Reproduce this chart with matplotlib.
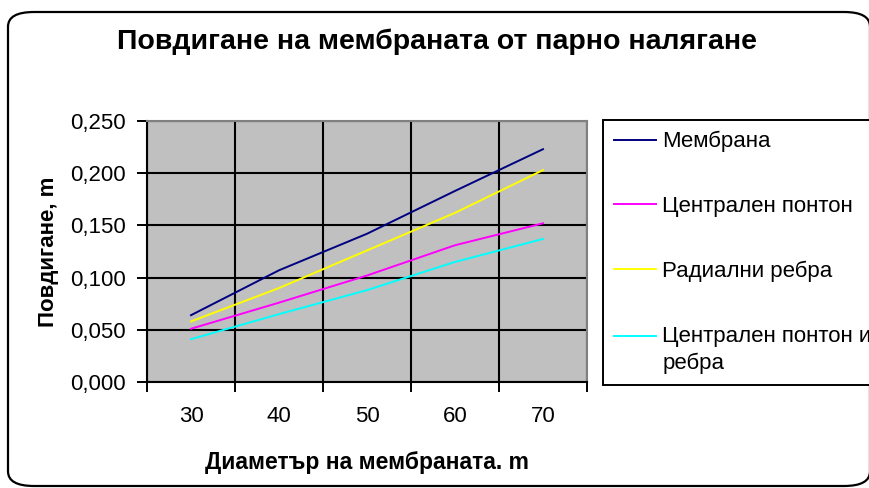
import matplotlib
matplotlib.use('Agg')
import matplotlib.pyplot as plt
from matplotlib.patches import FancyBboxPatch
from matplotlib.ticker import FixedLocator, FuncFormatter

plt.rcParams['font.family'] = ['Liberation Sans', 'DejaVu Sans']

# данни, отчетени от графиката
diameters = ['30', '40', '50', '60', '70']
membrana = [0.064, 0.107, 0.142, 0.183, 0.223]
ponton = [0.051, 0.076, 0.102, 0.131, 0.152]
rebra = [0.058, 0.090, 0.126, 0.162, 0.203]
ponton_rebra = [0.041, 0.065, 0.088, 0.115, 0.137]

series_names = ['Мембрана', 'Централен понтон', 'Радиални ребра',
                'Централен понтон и\nребра']
series_colors = ['#000080', '#FF00FF', '#FFFF00', '#00FFFF']

W, H = 869, 488
fig = plt.figure(figsize=(W / 100, H / 100), dpi=100)

# рамка на диаграмата със заоблени ъгли
frame = FancyBboxPatch((8 / W, 2 / H), (870 - 8) / W, (476 - 2) / H,
                       boxstyle='round,pad=0,rounding_size=0.03',
                       transform=fig.transFigure, facecolor='white',
                       edgecolor='black', linewidth=1.6, zorder=-5)
fig.patches.append(frame)

ax = fig.add_axes([147 / W, (H - 382) / H, 440 / W, 261 / H])
ax.set_facecolor('#C0C0C0')

x = list(range(len(diameters)))
for vals, name, col in zip([membrana, ponton, rebra, ponton_rebra],
                           series_names, series_colors):
    ax.plot(x, vals, color=col, linewidth=1.4, label=name, zorder=3)

ax.set_xlim(-0.5, len(diameters) - 0.5)
ax.set_ylim(0, 0.25)

# категориите са между деленията
ax.xaxis.set_major_locator(FixedLocator([i - 0.5 for i in range(len(diameters) + 1)]))
ax.xaxis.set_minor_locator(FixedLocator(x))
ax.set_xticklabels([], minor=False)
ax.set_xticklabels(diameters, minor=True)
ax.tick_params(axis='x', which='major', length=7, width=1.4, direction='out')
ax.tick_params(axis='x', which='minor', length=0, pad=17, labelsize=16)

ax.set_yticks([0, 0.05, 0.10, 0.15, 0.20, 0.25])
ax.yaxis.set_major_formatter(FuncFormatter(lambda v, p: ('%.3f' % v).replace('.', ',')))
ax.tick_params(axis='y', length=7, width=1.4, direction='out', pad=8, labelsize=16)

ax.grid(True, which='major', color='black', linewidth=1.5, zorder=1)
ax.set_axisbelow(True)

for s in ['left', 'bottom']:
    ax.spines[s].set_color('black')
    ax.spines[s].set_linewidth(1.5)
for s in ['top', 'right']:
    ax.spines[s].set_color('#808080')
    ax.spines[s].set_linewidth(1.5)

ax.set_ylabel('Повдигане, m', fontsize=16, fontweight='bold')
ax.yaxis.set_label_coords((59 - 147) / 440, 0.5)
ax.set_xlabel('Диаметър на мембраната. m', fontsize=16.5, fontweight='bold')
ax.xaxis.set_label_coords(0.5, (382 - 451) / 261)

fig.text(437 / W, 1 - 42 / H, 'Повдигане на мембраната от парно налягане',
         fontsize=20.5, fontweight='bold', ha='center', va='center')

leg = ax.legend(loc='upper left',
                bbox_to_anchor=(603 / W, (H - 380) / H, (900 - 603) / W, 260 / H),
                bbox_transform=fig.transFigure, mode='expand',
                fontsize=16, frameon=True, fancybox=False, framealpha=1,
                edgecolor='black', borderpad=0.5, labelspacing=1.97,
                handlelength=1.9, handletextpad=0.27, borderaxespad=0)
leg.get_frame().set_linewidth(1.4)
# последният надпис е на два реда - линията е срещу първия ред
leg.get_texts()[3].set_linespacing(1.35)
h = leg.legend_handles[3]
h.set_ydata([y + 10 for y in h.get_ydata()])

fig.savefig('out.png', dpi=100)
